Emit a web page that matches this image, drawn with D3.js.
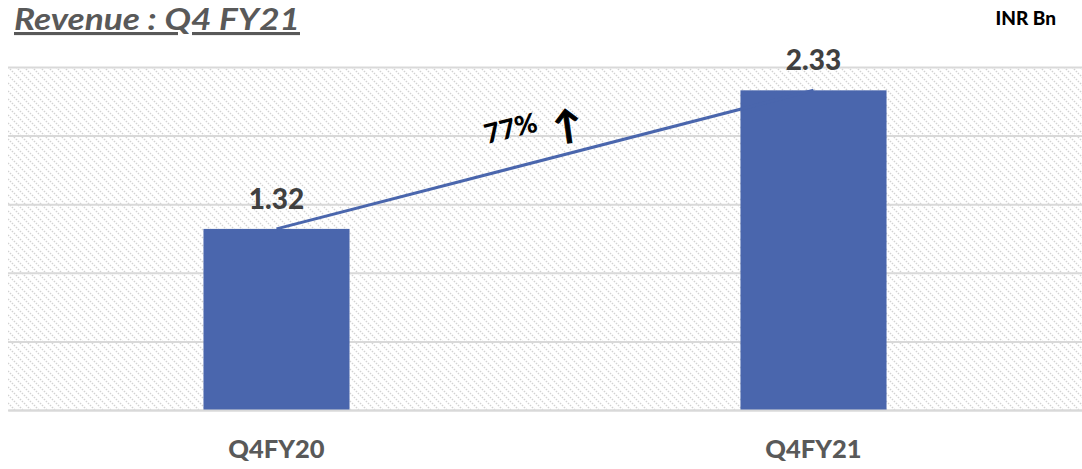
<!DOCTYPE html>
<html>
<head>
<meta charset="utf-8">
<script src="https://cdn.jsdelivr.net/npm/d3@7"></script>
<style>
  body { margin: 0; background: #fff; }
  text { font-family: Lato, "Open Sans", sans-serif; }
</style>
</head>
<body>
<div id="wrapper"></div>
<script>
const categories = ["Q4FY20", "Q4FY21"];
const revenue = [1.32, 2.33];
const yTicks = [0, 0.5, 1, 1.5, 2, 2.5];
const growthLabel = "77%";

const dimension = {
    width: 1082,
    height: 469,
    margin: { top: 67, left: 8, bottom: 59, right: 0 }
};
dimension.boundedWidth = dimension.width - dimension.margin.left - dimension.margin.right;
dimension.boundedHeight = dimension.height - dimension.margin.top - dimension.margin.bottom;

const svg = d3.select("#wrapper").append("svg")
    .attr("width", dimension.width)
    .attr("height", dimension.height);

// diagonal hatch background
const pattern = svg.append("defs").append("pattern")
    .attr("id", "hatch")
    .attr("patternUnits", "userSpaceOnUse")
    .attr("width", 8).attr("height", 8);
pattern.append("path")
    .attr("d", "M-2,-2 L10,10 M-2,6 L2,10 M6,-2 L10,2")
    .attr("stroke", "#d2d2d2")
    .attr("stroke-width", 1.5)
    .attr("stroke-dasharray", "1.5,1.3");

const bounded = svg.append("g")
    .attr("transform", `translate(${dimension.margin.left}, ${dimension.margin.top})`);

const xScale = d3.scaleBand()
    .domain(categories)
    .range([0, dimension.boundedWidth])
    .paddingInner(0.728)
    .paddingOuter(0.364);

const yScale = d3.scaleLinear()
    .domain([0, 2.5])
    .range([dimension.boundedHeight, 0]);

bounded.append("rect")
    .attr("width", dimension.boundedWidth)
    .attr("height", dimension.boundedHeight)
    .attr("fill", "url(#hatch)");

const yAxis = d3.axisLeft(yScale)
    .tickValues(yTicks)
    .tickSize(-dimension.boundedWidth)
    .tickFormat("");
const yAxisG = bounded.append("g").call(yAxis);
yAxisG.select(".domain").remove();
yAxisG.selectAll(".tick line").attr("stroke", "#d9d9d9").attr("stroke-width", 2);

bounded.selectAll(".bar")
    .data(revenue)
    .join("rect")
    .attr("class", "bar")
    .attr("x", (d, i) => xScale(categories[i]))
    .attr("y", d => yScale(d))
    .attr("width", xScale.bandwidth())
    .attr("height", d => dimension.boundedHeight - yScale(d))
    .attr("fill", "#4a66ad");

// growth line between bar tops
const line = d3.line()
    .x((d, i) => xScale(categories[i]) + xScale.bandwidth() / 2)
    .y(d => yScale(d));
bounded.append("path")
    .attr("d", line(revenue))
    .attr("fill", "none")
    .attr("stroke", "#4a66ad")
    .attr("stroke-width", 3);

bounded.selectAll(".value")
    .data(revenue)
    .join("text")
    .attr("class", "value")
    .attr("x", (d, i) => xScale(categories[i]) + xScale.bandwidth() / 2)
    .attr("y", d => yScale(d) - 20)
    .attr("text-anchor", "middle")
    .attr("font-size", 28)
    .attr("font-weight", "900")
    .attr("fill", "#404040")
    .text(d => d.toFixed(2));

const xAxis = d3.axisBottom(xScale).tickSize(0).tickPadding(30);
const xAxisG = bounded.append("g")
    .attr("transform", `translate(0, ${dimension.boundedHeight})`)
    .call(xAxis);
xAxisG.select(".domain").attr("stroke", "#d9d9d9").attr("stroke-width", 2);
xAxisG.selectAll("text")
    .attr("font-size", 25.5)
    .attr("font-weight", "900")
    .attr("fill", "#595959")
    .attr("font-family", "Lato, 'Open Sans', sans-serif");

// growth annotation
const midX = (xScale(categories[0]) + xScale(categories[1]) + xScale.bandwidth()) / 2;
const midY = yScale((revenue[0] + revenue[1]) / 2);
bounded.append("text")
    .attr("transform", `translate(${midX - 32}, ${midY - 22}) rotate(-14)`)
    .attr("text-anchor", "middle")
    .attr("font-size", 27)
    .attr("font-weight", "900")
    .attr("fill", "#000")
    .text(growthLabel);
bounded.append("text")
    .attr("transform", `translate(${midX + 24}, ${midY - 21}) rotate(-8)`)
    .attr("text-anchor", "middle")
    .attr("font-size", 38)
    .attr("font-weight", "bold")
    .attr("fill", "#000")
    .attr("stroke", "#000")
    .attr("stroke-width", 1)
    .attr("font-family", "'Liberation Sans', sans-serif")
    .text("↑");

svg.append("text")
    .attr("x", 14)
    .attr("y", 30)
    .attr("font-size", 31)
    .attr("font-weight", "bold")
    .attr("font-style", "italic")
    .attr("text-decoration", "underline")
    .attr("fill", "#595959")
    .attr("textLength", 286)
    .attr("lengthAdjust", "spacingAndGlyphs")
    .text("Revenue : Q4 FY21");

svg.append("text")
    .attr("x", 1056)
    .attr("y", 25)
    .attr("text-anchor", "end")
    .attr("font-size", 19)
    .attr("font-weight", "900")
    .attr("fill", "#000")
    .text("INR Bn");
</script>
</body>
</html>
